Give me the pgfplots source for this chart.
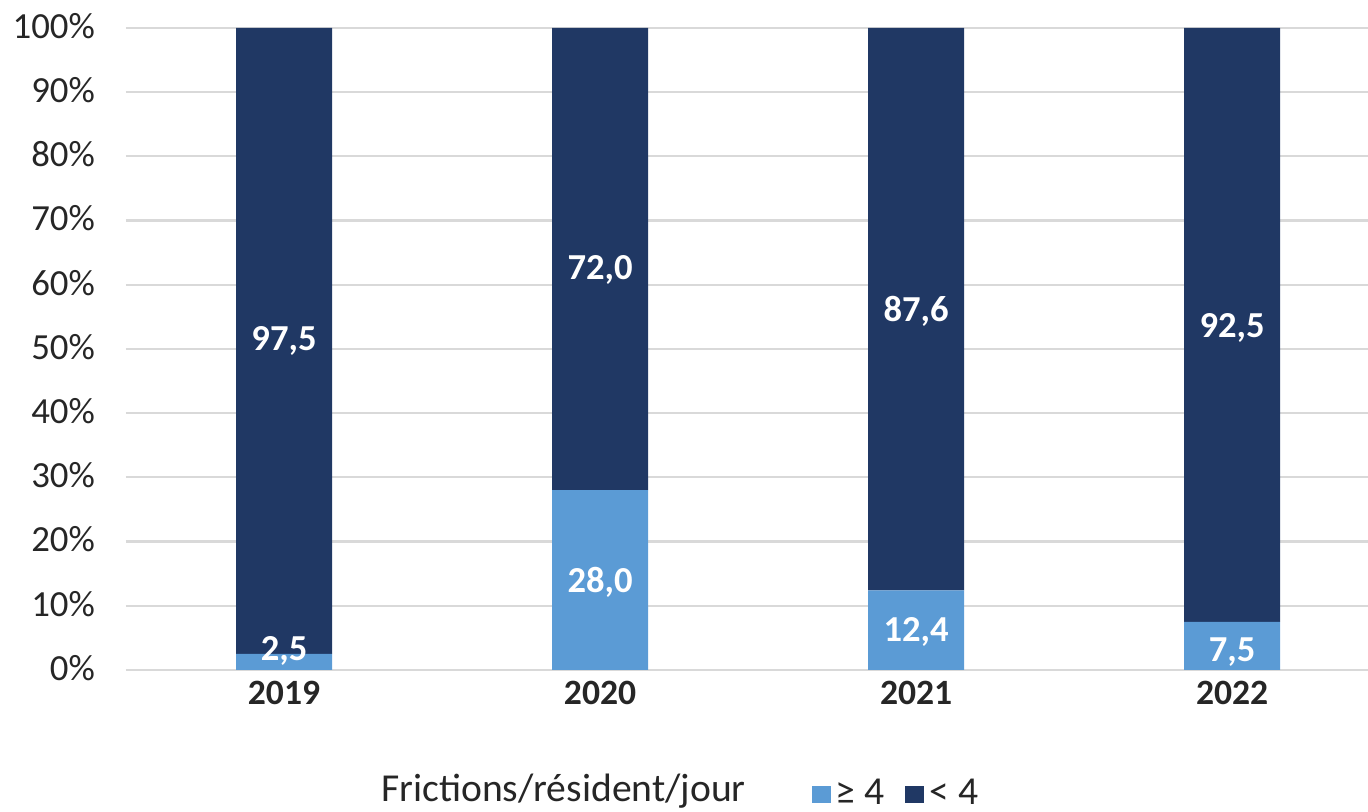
\documentclass[border=0pt]{standalone}
\usepackage{pgfplots}
\pgfplotsset{compat=1.18}
\usepackage{fontspec}
\setmainfont{Carlito}
\definecolor{lightbar}{HTML}{5B9BD5}
\definecolor{darkbar}{HTML}{203864}
\definecolor{gridgray}{HTML}{D9D9D9}
\definecolor{txtgray}{HTML}{262626}
\begin{document}
\begin{tikzpicture}
\useasboundingbox (-63pt,-71pt) rectangle (621pt,335pt);
\begin{axis}[
  at={(0pt,0pt)}, anchor=south west,
  scale only axis,
  width=621pt, height=321pt,
  ybar stacked,
  bar width=48pt,
  xmin=-0.5, xmax=3.43,
  ymin=0, ymax=100,
  xtick={0,1,2,3},
  xticklabels={2019,2020,2021,2022},
  ytick={0,10,...,100},
  yticklabel={\pgfmathprintnumber{\tick}\%},
  /pgf/number format/assume math mode=true,
  ymajorgrids,
  grid style={gridgray, line width=1.1pt},
  axis line style={draw=none},
  major tick length=0pt,
  tick label style={font=\fontsize{18.4}{20}\selectfont, text=txtgray},
  xticklabel style={font=\fontsize{17.8}{20}\selectfont\bfseries, yshift=-2pt},
  yticklabel style={xshift=-12pt, yshift=1pt},
  clip=false,
  legend style={at={(rel axis cs:0.6203,-0.1925)}, anchor=center, draw=none, fill=none,
    inner sep=0pt, nodes={inner sep=1.5pt},
    font=\fontsize{19.8}{22}\selectfont, text=txtgray, column sep=1pt,
    /tikz/every even column/.append style={column sep=9pt}},
  legend columns=2,
  legend image code/.code={\fill[#1] (0pt,-4.5pt) rectangle (9.5pt,4pt);},
]
\addplot[fill=lightbar, draw=none] coordinates {(0,2.5) (1,28.0) (2,12.4) (3,7.5)};
\addplot[fill=darkbar, draw=none] coordinates {(0,97.5) (1,72.0) (2,87.6) (3,92.5)};
\legend{≥ 4, < 4}
\end{axis}
\begin{axis}[
  at={(0pt,0pt)}, anchor=south west,
  scale only axis,
  width=621pt, height=321pt,
  xmin=-0.5, xmax=3.43,
  ymin=0, ymax=100,
  hide axis, clip=false,
]
\addplot[only marks, mark=none, nodes near coords, point meta=explicit symbolic,
  nodes near coords style={anchor=center, text=white, font=\fontsize{18.3}{20}\selectfont\bfseries}]
  coordinates {(0,51.2)[97,5] (1,62.3)[72,0] (2,55.9)[87,6] (3,53.2)[92,5]
               (0,2.9)[2,5] (1,13.7)[28,0] (2,5.9)[12,4] (3,2.8)[7,5]};
\node[font=\fontsize{19.8}{22}\selectfont, text=txtgray, anchor=base] at (rel axis cs:0.3523,-0.2056) {Frictions/résident/jour};
\end{axis}
\end{tikzpicture}
\end{document}
